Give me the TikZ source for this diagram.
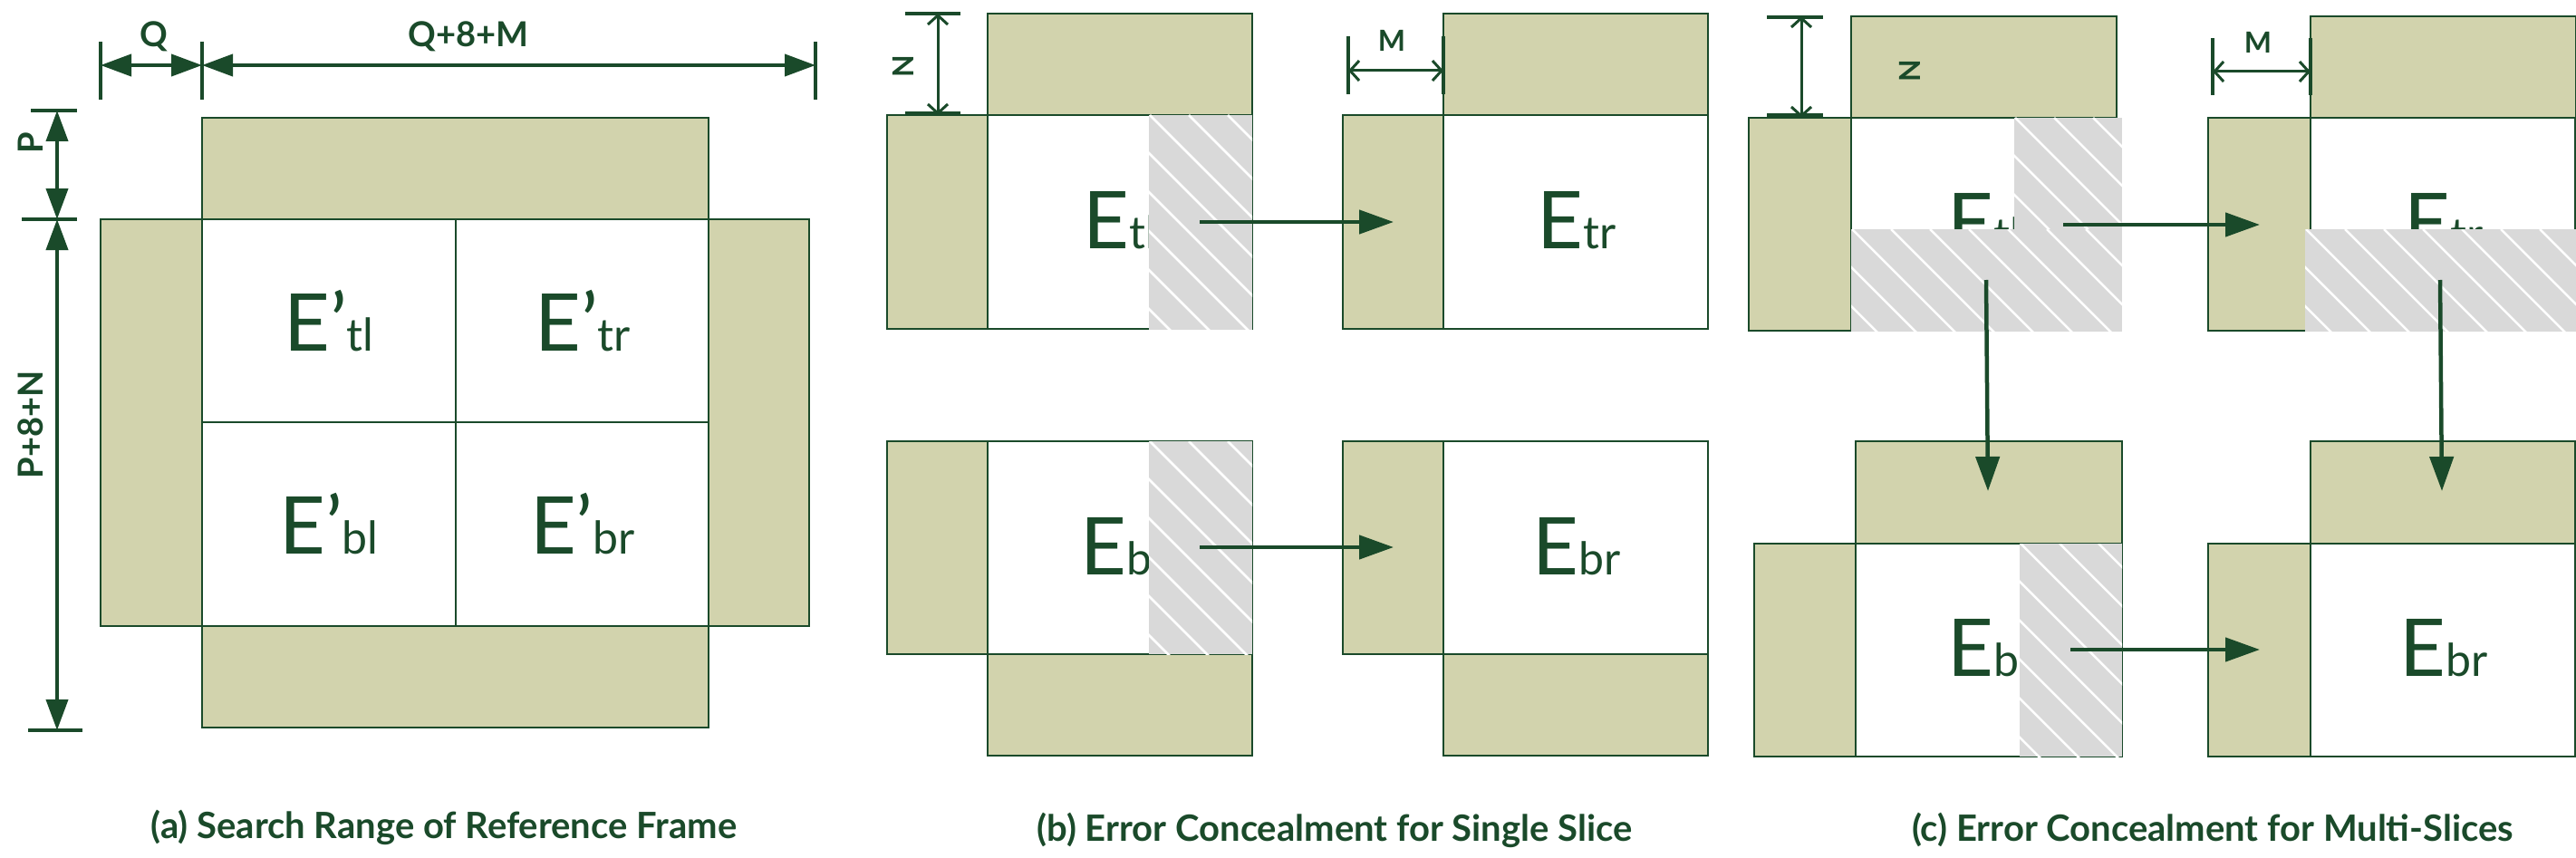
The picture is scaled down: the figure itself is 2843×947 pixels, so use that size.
\documentclass[tikz,border=0pt]{standalone}
\usepackage{fontspec}
\setmainfont{Lato}
\usetikzlibrary{arrows.meta}
\definecolor{dg}{HTML}{1A4A2A}
\definecolor{olive}{HTML}{D2D3AD}
\definecolor{hg}{HTML}{D9D9D9}
\newcommand{\hatchbox}[4]{%
  \begin{scope}
    \clip (#1,#2) rectangle (#3,#4);
    \fill[hg] (#1,#2) rectangle (#3,#4);
    \foreach \k in {-300,-257,...,400}{\draw[white,line width=2.5pt] (#1+\k,#2) -- ++(400,400);}
  \end{scope}}
\newcommand{\bigE}[2]{{\fontsize{88}{88}\selectfont E#1}{\fontsize{50}{50}\selectfont #2}}
\tikzset{
  gb/.style={fill=olive,draw=dg,line width=1.2pt},
  wb/.style={fill=white,draw=dg,line width=1.2pt},
  flow/.style={draw=dg,line width=4.5pt,-{Triangle[length=38pt,width=26pt]}},
  dimA/.style={draw=dg,line width=4pt,{Triangle[length=34pt,width=24pt]}-{Triangle[length=34pt,width=24pt]}},
  dimB/.style={draw=dg,line width=3pt,{Straight Barb[length=10pt,width=22pt]}-{Straight Barb[length=10pt,width=22pt]}},
  tick/.style={draw=dg,line width=3.5pt},
  lbl/.style={text=dg,font=\bfseries\fontsize{38}{38}\selectfont},
  slbl/.style={text=dg,font=\bfseries\fontsize{32}{32}\selectfont},
  et/.style={text=dg,inner sep=0pt},
  captxt/.style={text=dg,font=\bfseries\fontsize{40}{40}\selectfont}
}
\begin{document}
\begin{tikzpicture}[x=1pt,y=-1pt]
\useasboundingbox (0,0) rectangle (2843,947);
% ---------------- (a)
\draw[gb] (223,130) rectangle (782,242);
\draw[gb] (111,242) rectangle (223,691);
\draw[gb] (782,242) rectangle (893,691);
\draw[gb] (223,691) rectangle (782,803);
\draw[wb] (223,242) rectangle (503,466);
\draw[wb] (503,242) rectangle (782,466);
\draw[wb] (223,466) rectangle (503,691);
\draw[wb] (503,466) rectangle (782,691);
\node[et] (atl) at (363,354) {\bigE{’}{tl}};
\node[et] (atr) at (643,354) {\bigE{’}{tr}};
\node[et] (abl) at (363,578) {\bigE{’}{bl}};
\node[et] (abr) at (643,578) {\bigE{’}{br}};
\coordinate (q0) at (111,72); \coordinate (q1) at (223,72); \coordinate (q2) at (900,72);
\draw[tick] (111,46) -- (111,110); \draw[tick] (223,46) -- (223,110); \draw[tick] (900,46) -- (900,110);
\draw[dimA] (q0) -- (q1);
\draw[dimA] (q1) -- (q2);
\node[lbl] at (170,40) {Q};
\node[lbl] at (517,40) {Q+8+M};
\coordinate (p0) at (63,122); \coordinate (p1) at (63,242); \coordinate (p2) at (63,806);
\draw[tick] (34,122) -- (85,122); \draw[tick] (24,242) -- (85,242); \draw[tick] (31,806) -- (91,806);
\draw[dimA] (p0) -- (p1);
\draw[dimA] (p1) -- (p2);
\node[lbl,rotate=90] at (34,158) {P};
\node[lbl,rotate=90] at (34,469) {P+8+N};
\node[captxt] at (490,913) {(a) Search Range of Reference Frame};
% ---------------- (b)
\draw[gb] (1090,15) rectangle (1382,127);
\draw[gb] (979,127) rectangle (1090,363);
\draw[wb] (1090,127) rectangle (1382,363);
\node[et] (btl) at (1236,243) {\bigE{}{tl}};
\hatchbox{1268}{127}{1382}{364}
\draw[gb] (1593,15) rectangle (1885,127);
\draw[gb] (1482,127) rectangle (1593,363);
\draw[wb] (1593,127) rectangle (1885,363);
\node[et] (btr) at (1740,243) {\bigE{}{tr}};
\coordinate (bn0) at (1035,15); \coordinate (bn1) at (1035,127);
\draw[tick] (999,15) -- (1060,15); \draw[tick] (999,125) -- (1060,125);
\draw[dimB] (bn0) -- (bn1);
\node[slbl,rotate=90] at (997,73) {N};
\coordinate (bm0) at (1488,78); \coordinate (bm1) at (1593,78);
\draw[tick] (1488,40) -- (1488,104); \draw[tick] (1593,40) -- (1593,104);
\draw[dimB] (bm0) -- (bm1);
\node[slbl] at (1536,45) {M};
\coordinate (ba0) at (1324,245); \coordinate (ba1) at (1538,245);
\draw[flow] (ba0) -- (ba1);
% bottom
\draw[gb] (979,487) rectangle (1090,722);
\draw[wb] (1090,487) rectangle (1382,722);
\draw[gb] (1090,722) rectangle (1382,834);
\node[et] (bbl) at (1232,603) {\bigE{}{b}};
\hatchbox{1268}{487}{1382}{722}
\draw[gb] (1482,487) rectangle (1593,722);
\draw[wb] (1593,487) rectangle (1885,722);
\draw[gb] (1593,722) rectangle (1885,834);
\node[et] (bbr) at (1740,603) {\bigE{}{br}};
\coordinate (bb0) at (1324,604); \coordinate (bb1) at (1538,604);
\draw[flow] (bb0) -- (bb1);
\node[captxt] at (1473,916) {(b) Error Concealment for Single Slice};
% ---------------- (c)
\draw[gb] (2043,18) rectangle (2336,130);
\draw[gb] (1930,130) rectangle (2043,365);
\draw[wb] (2043,130) rectangle (2336,365);
\node[et] (ctl) at (2190,245) {\bigE{}{tl}};
\hatchbox{2223}{130}{2342}{366}
\hatchbox{2043}{253}{2342}{366}
\draw[gb] (2550,18) rectangle (2843,130);
\draw[gb] (2437,130) rectangle (2550,365);
\draw[wb] (2550,130) rectangle (2842,365);
\node[et] (ctr) at (2697,245) {\bigE{}{tr}};
\hatchbox{2544}{253}{2843}{366}
\coordinate (cn0) at (1988,18); \coordinate (cn1) at (1988,130);
\draw[tick] (1950,19) -- (2012,19); \draw[tick] (1950,127) -- (2012,127);
\draw[dimB] (cn0) -- (cn1);
\node[slbl,rotate=90] at (2108,78) {N};
\coordinate (cm0) at (2442,79); \coordinate (cm1) at (2550,79);
\draw[tick] (2442,42) -- (2442,105); \draw[tick] (2550,42) -- (2550,105);
\draw[dimB] (cm0) -- (cm1);
\node[slbl] at (2492,47) {M};
% bottom
\draw[gb] (2048,487) rectangle (2342,600);
\draw[gb] (1936,600) rectangle (2048,835);
\draw[wb] (2048,600) rectangle (2342,835);
\node[et] (cbl) at (2195,715) {\bigE{}{bl}};
\hatchbox{2229}{600}{2342}{835}
\draw[gb] (2550,487) rectangle (2842,600);
\draw[gb] (2437,600) rectangle (2550,835);
\draw[wb] (2550,600) rectangle (2842,835);
\node[et] (cbr) at (2697,715) {\bigE{}{br}};
\coordinate (ch0) at (2277,248); \coordinate (ch1) at (2494,248);
\draw[flow] (ch0) -- (ch1);
\coordinate (cv0) at (2192,309); \coordinate (cv1) at (2194,542);
\draw[flow] (cv0) -- (cv1);
\coordinate (cw0) at (2693,309); \coordinate (cw1) at (2695,542);
\draw[flow] (cw0) -- (cw1);
\coordinate (cb0) at (2285,717); \coordinate (cb1) at (2494,717);
\draw[flow] (cb0) -- (cb1);
\node[captxt] at (2442,916) {(c) Error Concealment for Multi-Slices};
\end{tikzpicture}
\end{document}
